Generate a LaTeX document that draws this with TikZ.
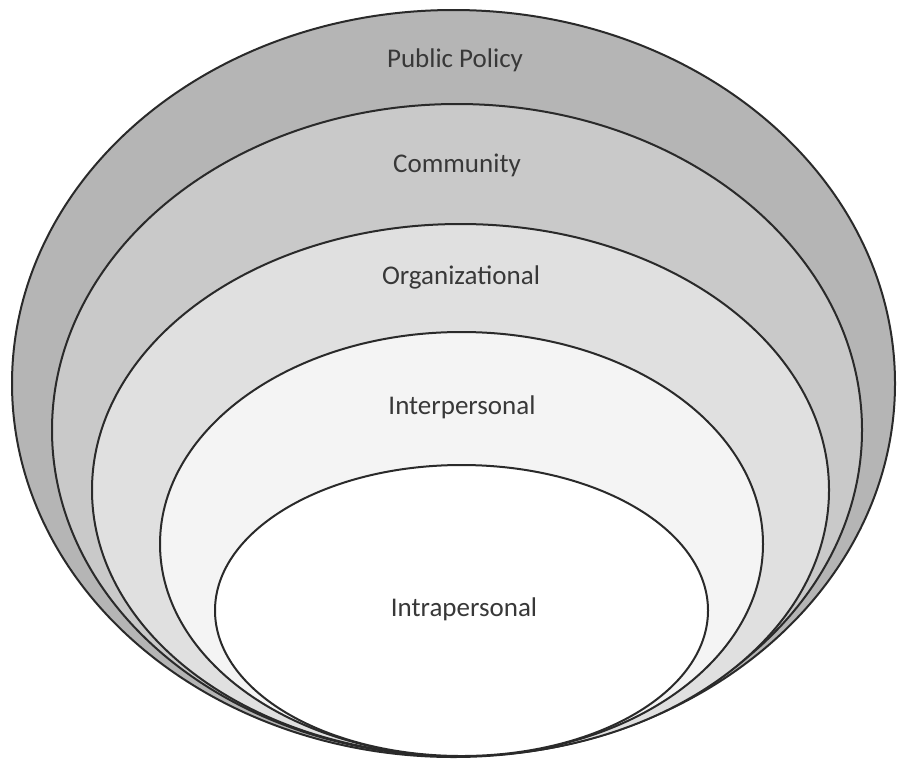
\documentclass[tikz,border=0pt]{standalone}
\usepackage{fontspec}
\setmainfont{Carlito}
\usetikzlibrary{shapes.geometric}
\definecolor{ringline}{HTML}{2A2A2A}
\definecolor{labeltext}{HTML}{383838}
\definecolor{policyfill}{HTML}{B5B5B5}
\definecolor{communityfill}{HTML}{C9C9C9}
\definecolor{orgfill}{HTML}{E0E0E0}
\definecolor{interfill}{HTML}{F4F4F4}
\definecolor{intrafill}{HTML}{FFFFFF}
\tikzset{
  ring/.style={ellipse, draw=ringline, line width=2pt, inner sep=0pt, outer sep=0pt},
  levellabel/.style={text=labeltext, font=\fontsize{27}{32}\selectfont, inner sep=0pt}
}
\begin{document}
\begin{tikzpicture}[x=1pt, y=-1pt]
  \useasboundingbox (0,0) rectangle (901,764);
  % nested levels, all touching at the bottom
  \node[ring, fill=policyfill,    minimum width=883pt, minimum height=747pt] (policy)    at (453.5,383.5) {};
  \node[ring, fill=communityfill, minimum width=810pt, minimum height=652pt] (community) at (457,430) {};
  \node[ring, fill=orgfill,       minimum width=737pt, minimum height=532pt] (org)       at (460.5,490) {};
  \node[ring, fill=interfill,     minimum width=603pt, minimum height=424pt] (inter)     at (461.5,544) {};
  \node[ring, fill=intrafill,     minimum width=493pt, minimum height=291pt] (intra)     at (461.5,610.5) {};
  % level names
  \node[levellabel] (lpolicy)    at (455,60)  {Public Policy};
  \node[levellabel] (lcommunity) at (457,165) {Community};
  \node[levellabel] (lorg)       at (461,277) {Organizational};
  \node[levellabel] (linter)     at (462,407) {Interpersonal};
  \node[levellabel] (lintra)     at (464,609) {Intrapersonal};
\end{tikzpicture}
\end{document}
